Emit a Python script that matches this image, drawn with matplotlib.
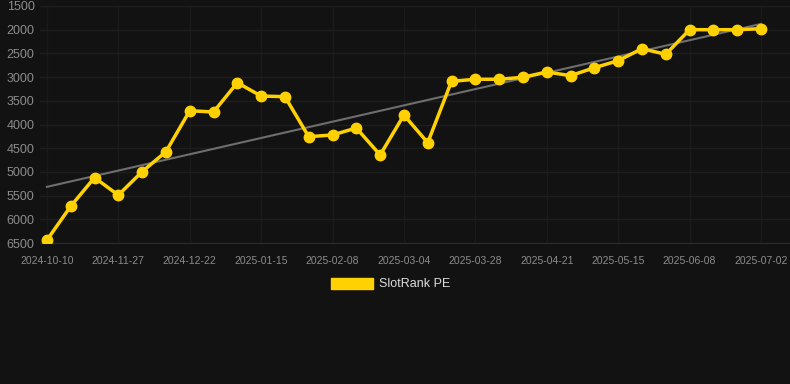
import matplotlib
matplotlib.use("Agg")
import matplotlib.pyplot as plt
import numpy as np
from matplotlib.patches import Patch

plt.rcParams['font.family'] = ['Liberation Sans', 'DejaVu Sans']

series_name = "SlotRank PE"
rank_values = [6440, 5725, 5120, 5490, 4995, 4575, 3710, 3736, 3118, 3400,
               3413, 4257, 4221, 4074, 4643, 3800, 4384, 3089, 3046, 3046,
               3004, 2892, 2970, 2802, 2654, 2401, 2519, 2000, 2000, 2000,
               1979]
tick_labels = ["2024-10-10", "2024-11-27", "2024-12-22", "2025-01-15",
               "2025-02-08", "2025-03-04", "2025-03-28", "2025-04-21",
               "2025-05-15", "2025-06-08", "2025-07-02"]
y_ticks = [1500, 2000, 2500, 3000, 3500, 4000, 4500, 5000, 5500, 6000, 6500]

BG = "#121212"
GOLD = "#FFD100"

fig = plt.figure(figsize=(7.9, 3.84), dpi=100, facecolor=BG)
ax = fig.add_axes([40/790, 1 - 243/384, 750/790, 237/384], facecolor=BG)

x = np.arange(len(rank_values))
y = np.array(rank_values, dtype=float)

# trend line (least squares)
coef = np.polyfit(x, y, 1)
ax.plot(x, np.polyval(coef, x), color="#6e6e6e", lw=1.5, zorder=2)

ax.plot(x, y, color=GOLD, lw=2.5, marker="o", ms=7.5, mfc=GOLD, mec=GOLD, zorder=3)

ax.set_ylim(6500, 1500)
ax.set_xlim(-0.29, 31.22)
ax.set_yticks(y_ticks)
ax.set_yticklabels([str(v) for v in y_ticks])
ax.set_xticks(x[::3])
ax.set_xticklabels(tick_labels)

ax.grid(True, axis="y", color="#1e1e1e", lw=1)
ax.grid(True, axis="x", color="#1a1a1a", lw=1)
ax.set_axisbelow(True)
for s in ["top", "right", "left"]:
    ax.spines[s].set_visible(False)
ax.spines["bottom"].set_color("#2c2c2c")
ax.tick_params(axis="both", length=0)
ax.tick_params(axis="y", labelsize=9, colors="#8c8c8c", pad=4)
ax.tick_params(axis="x", labelsize=7.5, colors="#8c8c8c", pad=9)

handle = Patch(facecolor=GOLD, edgecolor=GOLD)
leg = fig.legend([handle], [series_name], loc="center", bbox_to_anchor=(391/790, 1 - 284/384),
                 frameon=False, handlelength=3.3, handleheight=1.0, fontsize=9,
                 labelcolor="#dddddd", handletextpad=0.55)

fig.savefig("out.png", dpi=100, facecolor=BG)
